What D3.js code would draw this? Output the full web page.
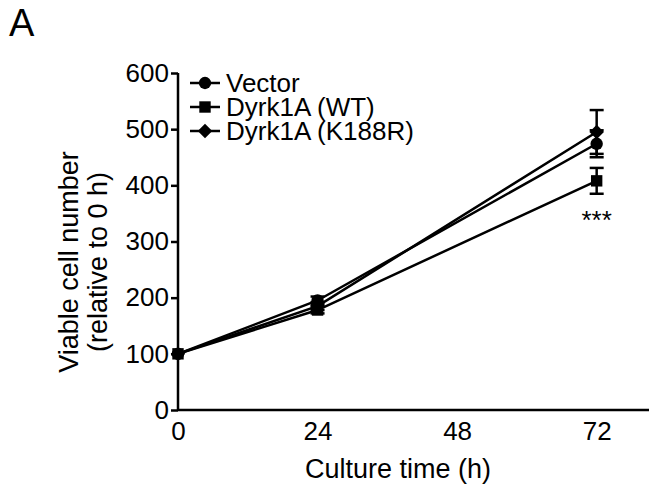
<!DOCTYPE html>
<html>
<head>
<meta charset="utf-8">
<script src="https://cdn.jsdelivr.net/npm/d3@7"></script>
<style>
  body { margin: 0; background: #fff; }
  svg { display: block; font-family: "Liberation Sans", Arial, sans-serif; }
</style>
</head>
<body>
<svg id="chart" width="654" height="490"></svg>
<script>
const timePoints = [0, 24, 72];
const seriesNames = ["Vector", "Dyrk1A (WT)", "Dyrk1A (K188R)"];
const vectorValues = [100, 195, 474];
const vectorErrors = [0, 7, 24];
const wtValues = [100, 178, 408];
const wtErrors = [0, 6, 23];
const k188rValues = [100, 185, 495];
const k188rErrors = [0, 7, 39];
const xTicks = [0, 24, 48, 72];
const yTicks = [0, 100, 200, 300, 400, 500, 600];
const significance = "***";

const series = [
  { name: seriesNames[0], values: vectorValues, errors: vectorErrors, symbol: d3.symbolCircle, size: 120, rot: 0 },
  { name: seriesNames[2], values: k188rValues, errors: k188rErrors, symbol: d3.symbolSquare, size: 105, rot: 45 },
  { name: seriesNames[1], values: wtValues, errors: wtErrors, symbol: d3.symbolSquare, size: 130, rot: 0 }
];
const legendOrder = [series[0], series[2], series[1]];

const svg = d3.select("#chart");
const x = d3.scaleLinear().domain([0, 81]).range([178, 649]);
const y = d3.scaleLinear().domain([0, 600]).range([410, 73]);

// panel label
svg.append("text").attr("x", 9).attr("y", 36).attr("font-size", 38).text("A");

// axes
const yAxis = svg.append("g").attr("transform", `translate(${x(0)},0)`)
  .call(d3.axisLeft(y).tickValues(yTicks).tickSize(7).tickPadding(2).tickFormat(d3.format("d")));
const xAxis = svg.append("g").attr("transform", `translate(0,${y(0)})`)
  .call(d3.axisBottom(x).tickValues(xTicks).tickSize(0).tickPadding(12).tickFormat(d3.format("d")));
[yAxis, xAxis].forEach(g => {
  g.select(".domain").attr("stroke", "#000").attr("stroke-width", 2.5);
  g.selectAll(".tick line").attr("stroke", "#000").attr("stroke-width", 2.5);
  g.selectAll(".tick text").attr("font-size", 26).attr("fill", "#000")
    .attr("font-family", '"Liberation Sans", Arial, sans-serif');
});
yAxis.select(".domain").attr("d", `M0,${y(600)}V${y(0)}`);
xAxis.select(".domain").attr("d", `M${x(0)},0H${x(81)}`);
xAxis.selectAll(".tick text").attr("dy", "0.71em");

// axis titles
svg.append("text").attr("x", 398).attr("y", 478)
  .attr("text-anchor", "middle").attr("font-size", 27).text("Culture time (h)");
svg.append("text").attr("transform", "translate(78,262) rotate(-90)")
  .attr("text-anchor", "middle").attr("font-size", 27).text("Viable cell number");
svg.append("text").attr("transform", "translate(107,262) rotate(-90)")
  .attr("text-anchor", "middle").attr("font-size", 27).text("(relative to 0 h)");

// series
const line = d3.line().x((d, i) => x(timePoints[i])).y(d => y(d));
series.forEach(s => {
  const g = svg.append("g");
  g.append("path").attr("d", line(s.values)).attr("fill", "none")
    .attr("stroke", "#000").attr("stroke-width", 2.5);
  s.values.forEach((v, i) => {
    const e = s.errors[i];
    if (e > 0) {
      const cx = x(timePoints[i]);
      g.append("line").attr("x1", cx).attr("x2", cx).attr("y1", y(v - e)).attr("y2", y(v + e))
        .attr("stroke", "#000").attr("stroke-width", 2.5);
      [v - e, v + e].forEach(c => {
        g.append("line").attr("x1", cx - 7).attr("x2", cx + 7).attr("y1", y(c)).attr("y2", y(c))
          .attr("stroke", "#000").attr("stroke-width", 2.5);
      });
    }
  });
  s.values.forEach((v, i) => {
    g.append("path").attr("d", d3.symbol(s.symbol, s.size)())
      .attr("transform", `translate(${x(timePoints[i])},${y(v)}) rotate(${s.rot})`).attr("fill", "#000");
  });
});

// significance
svg.append("text").attr("x", x(72)).attr("y", y(wtValues[2] - wtErrors[2]) + 35)
  .attr("text-anchor", "middle").attr("font-size", 26).text(significance);

// legend
const lg = svg.append("g").attr("transform", "translate(190,83)");
legendOrder.forEach((s, i) => {
  const row = lg.append("g").attr("transform", `translate(0,${i * 24})`);
  row.append("line").attr("x1", 0).attr("x2", 30).attr("y1", 0).attr("y2", 0)
    .attr("stroke", "#000").attr("stroke-width", 2.5);
  row.append("path").attr("d", d3.symbol(s.symbol, s.size)()).attr("transform", `translate(15,0) rotate(${s.rot})`).attr("fill", "#000");
  row.append("text").attr("x", 36).attr("y", 0).attr("dy", "0.36em").attr("font-size", 26).text(s.name);
});
</script>
</body>
</html>
